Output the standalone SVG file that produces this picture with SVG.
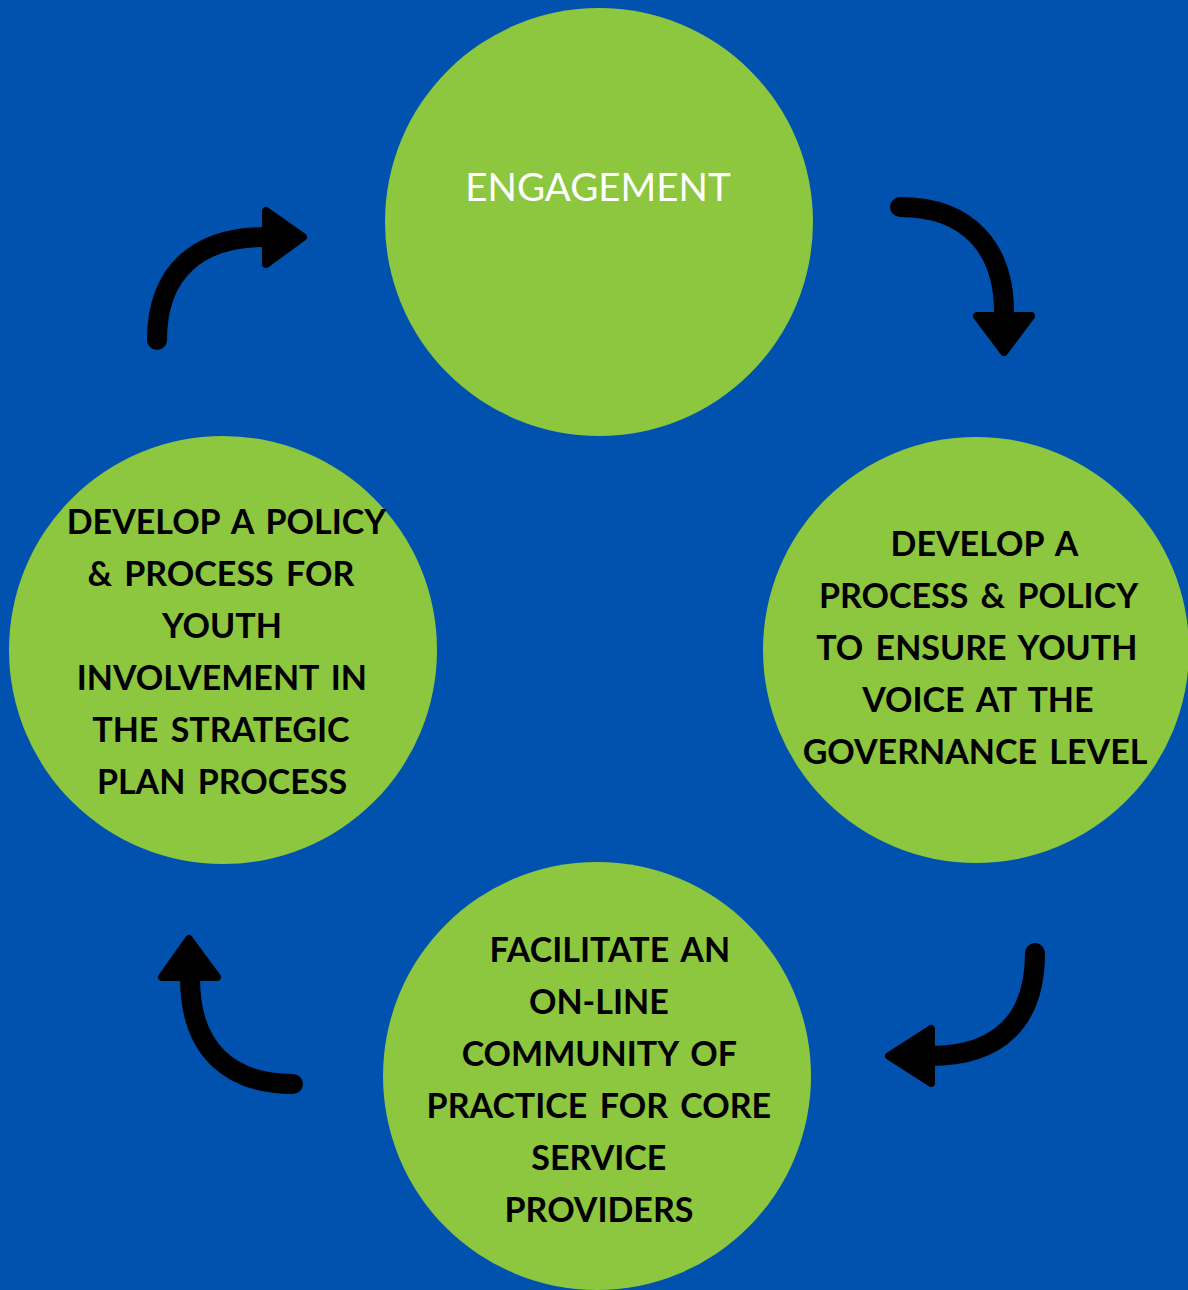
<svg xmlns="http://www.w3.org/2000/svg" width="1188" height="1290" viewBox="0 0 1188 1290">
<style>
.node{fill:#8DC63F}
.lbl{font-family:Lato,"Open Sans","Liberation Sans",sans-serif;font-weight:700;font-size:34px;word-spacing:4px;fill:#000;text-anchor:middle}
.title{font-family:Lato,"Open Sans","Liberation Sans",sans-serif;font-weight:400;font-size:38.5px;fill:#fff;text-anchor:middle}
.shaft{fill:none;stroke:#000;stroke-width:20;stroke-linecap:round}
.head{fill:#000;stroke:#000;stroke-width:8;stroke-linejoin:round}
</style>
<rect width="1188" height="1290" fill="#0052AE"/>
<g id="engagement">
<circle class="node" cx="599" cy="222" r="214"/>
<text class="title" x="598" y="201">ENGAGEMENT</text>
</g>
<g id="governance">
<circle class="node" cx="976" cy="650" r="213"/>
<text class="lbl">
<tspan x="990" y="556">DEVELOP A</tspan>
<tspan x="984" y="608">PROCESS &amp; POLICY</tspan>
<tspan x="983" y="660">TO ENSURE YOUTH</tspan>
<tspan x="984" y="712">VOICE AT THE</tspan>
<tspan x="975" y="764">GOVERNANCE LEVEL</tspan>
</text>
</g>
<g id="community">
<circle class="node" cx="597" cy="1076" r="214"/>
<text class="lbl">
<tspan x="616" y="962">FACILITATE AN</tspan>
<tspan x="605" y="1014">ON-LINE</tspan>
<tspan x="605" y="1066">COMMUNITY OF</tspan>
<tspan x="605" y="1118">PRACTICE FOR CORE</tspan>
<tspan x="605" y="1170">SERVICE</tspan>
<tspan x="599" y="1222">PROVIDERS</tspan>
</text>
</g>
<g id="strategic">
<circle class="node" cx="223" cy="650" r="214"/>
<text class="lbl">
<tspan x="232" y="534">DEVELOP A POLICY</tspan>
<tspan x="227" y="586">&amp; PROCESS FOR</tspan>
<tspan x="228" y="638">YOUTH</tspan>
<tspan x="228" y="690">INVOLVEMENT IN</tspan>
<tspan x="227" y="742">THE STRATEGIC</tspan>
<tspan x="222" y="794">PLAN PROCESS</tspan>
</text>
</g>
<g id="connectors">
<path class="shaft" d="M900,207 C970,207 1004,250 1004,312"/>
<polygon class="head" points="977,316 1031,316 1004,352"/>
<path class="shaft" d="M1035,953 C1035,1020 1000,1056 930,1056"/>
<polygon class="head" points="931,1029 931,1083 889,1056"/>
<path class="shaft" d="M293,1084 C230,1084 190,1050 190,978"/>
<polygon class="head" points="162,977 217,977 189,939"/>
<path class="shaft" d="M157,340 C157,270 200,237 264,237"/>
<polygon class="head" points="266,211 266,264 303,237"/>
</g>
</svg>
